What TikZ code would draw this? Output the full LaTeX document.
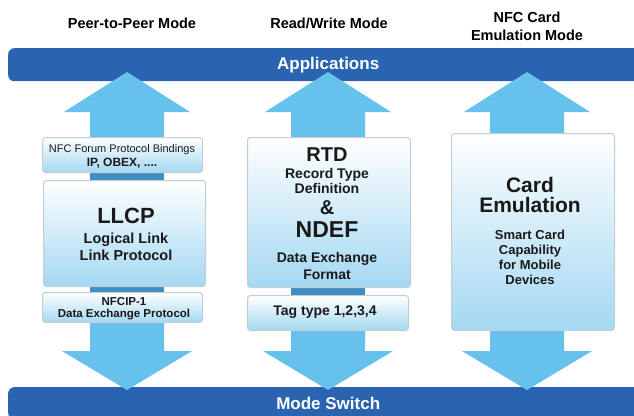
\documentclass[tikz,border=0pt]{standalone}
\usepackage{fontspec}
\setmainfont{Liberation Sans}
\definecolor{BarBlue}{HTML}{2A63AF}
\definecolor{ArrowBlue}{HTML}{66C1EC}
\definecolor{ShaftDark}{HTML}{3F8FC2}
\definecolor{BoxBlue}{HTML}{A4D8F2}
\definecolor{BoxEdge}{HTML}{C4CCD4}

\begin{document}
\begin{tikzpicture}
  [x=1pt, y=-1pt,
    ModeLabel/.style={inner sep=0pt, align=center, font=\fontsize{14.5}{18}\selectfont\bfseries},
    BarNode/.style={rectangle, rounded corners=6pt, fill=BarBlue, text=white, anchor=north west,
      minimum width=640pt, font=\fontsize{17}{20}\selectfont\bfseries},
    LayerBox/.style={rectangle, rounded corners=3pt, draw=BoxEdge, line width=1pt,
      top color=white, bottom color=BoxBlue, anchor=north west},
    BoxTxt/.style={inner sep=0pt, align=center, text=black!90}]
    \useasboundingbox (0,0) rectangle (634,415);
    \clip (0,0) rectangle (634,415);
    % mode titles
    \node[ModeLabel] (p2p) at (132,23) {Peer-to-Peer Mode};
    \node[ModeLabel] (rw) at (329,23) {Read/Write Mode};
    \node[ModeLabel] (ce) at (527,26) {NFC Card\\Emulation Mode};
    % bars
    \node[BarNode, minimum height=33pt] (apps) at (8,48) {Applications};
    \node[BarNode, minimum height=32pt] (modesw) at (8,387) {Mode Switch};
    % double arrows
    \foreach \cx in {127,328,527}
      \fill[ArrowBlue] (\cx,72) -- (\cx+63,112) -- (\cx+37,112) -- (\cx+37,351) -- (\cx+65,351)
        -- (\cx,390) -- (\cx-65,351) -- (\cx-37,351) -- (\cx-37,112) -- (\cx-63,112) -- cycle;
    \fill[ShaftDark] (90,170) rectangle (164,182);
    \fill[ShaftDark] (90,284) rectangle (164,294);
    \fill[ShaftDark] (291,285) rectangle (365,297);
    % peer-to-peer stack
    \node[LayerBox, minimum width=160pt, minimum height=35pt] (bind) at (42,137) {};
    \node[LayerBox, minimum width=162pt, minimum height=106pt] (llcp) at (43,180) {};
    \node[LayerBox, minimum width=160pt, minimum height=30pt] (nfcip) at (42,292) {};
    \node[BoxTxt, font=\fontsize{11}{12}\selectfont] (bindA) at (122,150) {NFC Forum Protocol Bindings};
    \node[BoxTxt, font=\fontsize{12}{13}\selectfont\bfseries] (bindB) at (122,163) {IP, OBEX, ....};
    \node[BoxTxt, font=\fontsize{22}{24}\selectfont\bfseries] (llcpA) at (126,216) {LLCP};
    \node[BoxTxt, font=\fontsize{14.5}{17}\selectfont\bfseries] (llcpB) at (126,247) {Logical Link\\Link Protocol};
    \node[BoxTxt, font=\fontsize{11.5}{12}\selectfont\bfseries] (nfcipA) at (124,309) {NFCIP-1\\Data Exchange Protocol};
    % read/write stack
    \node[LayerBox, minimum width=163pt, minimum height=150pt] (ndef) at (247,137) {};
    \node[LayerBox, minimum width=161pt, minimum height=35pt] (tag) at (247,295) {};
    \node[BoxTxt, font=\fontsize{20}{22}\selectfont\bfseries] (rtdA) at (327,155) {RTD};
    \node[BoxTxt, font=\fontsize{14}{13}\selectfont\bfseries] (rtdB) at (327,181) {Record Type\\Definition};
    \node[BoxTxt, font=\fontsize{20}{22}\selectfont\bfseries] (amp) at (327,208) {\&};
    \node[BoxTxt, font=\fontsize{23}{25}\selectfont\bfseries] (ndefA) at (327,230) {NDEF};
    \node[BoxTxt, font=\fontsize{14}{17}\selectfont\bfseries] (ndefB) at (327,266) {Data Exchange\\Format};
    \node[BoxTxt, font=\fontsize{14}{16}\selectfont\bfseries] (tagA) at (325,312) {Tag type 1,2,3,4};
    % card emulation stack
    \node[LayerBox, minimum width=163pt, minimum height=197pt] (card) at (451,133) {};
    \node[BoxTxt, font=\fontsize{21}{20}\selectfont\bfseries] (cardA) at (530,195) {Card\\Emulation};
    \node[BoxTxt, font=\fontsize{13}{15}\selectfont\bfseries] (cardB) at (530,257) {Smart Card\\Capability\\for Mobile\\Devices};
\end{tikzpicture}
\end{document}
